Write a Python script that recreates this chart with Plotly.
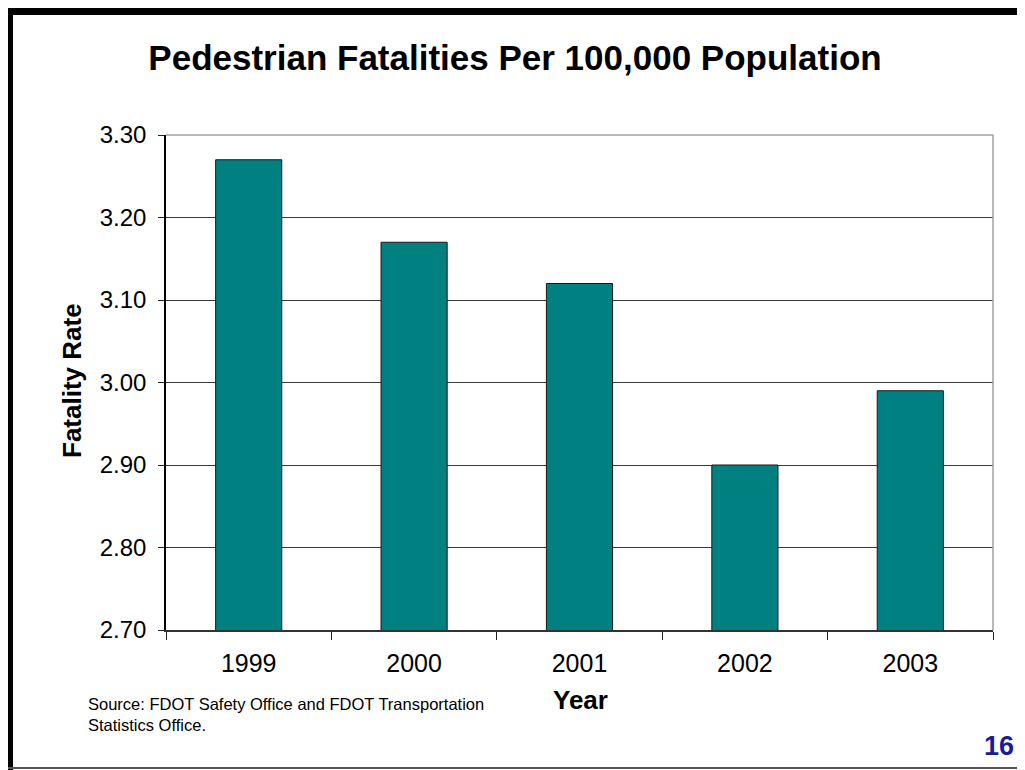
import plotly.graph_objects as go

years = ["1999", "2000", "2001", "2002", "2003"]
rates = [3.27, 3.17, 3.12, 2.90, 2.99]
y_ticks = [2.70, 2.80, 2.90, 3.00, 3.10, 3.20, 3.30]

# the page puts the figure 8px in from the top-left corner
OFF = 8
W, H = 1025 - OFF, 770 - OFF
FONT = "Liberation Sans, Arial, sans-serif"


def px(x):
    return (x - OFF) / W


def py(y):
    return 1 - (y - OFF) / H


# plot area in window pixels
x0, x1 = 166, 993
y_top, y_bot = 135, 630

fig = go.Figure()
fig.add_trace(go.Bar(
    x=years, y=rates, width=0.4,
    marker=dict(color="#008080", line=dict(color="#1a1a1a", width=1)),
))

fig.update_layout(
    width=W, height=H,
    margin=dict(l=0, r=0, t=0, b=0),
    paper_bgcolor="white", plot_bgcolor="white",
    showlegend=False,
    font=dict(family=FONT, color="black"),
    title=dict(text="<b>Pedestrian Fatalities Per 100,000 Population</b>",
               x=px(515), xanchor="center", y=py(58), yanchor="middle",
               font=dict(size=35, family=FONT, color="black")),
    xaxis=dict(
        domain=[px(x0), px(x1)], automargin=False,
        type="category", tickson="boundaries",
        ticks="outside", ticklen=8, tickcolor="#222", tickwidth=1,
        ticklabelstandoff=10,
        showline=True, linecolor="#333", linewidth=2,
        showgrid=False, tickfont=dict(size=25, family=FONT),
    ),
    yaxis=dict(
        domain=[py(y_bot), py(y_top)], automargin=False,
        range=[2.70, 3.30], tickvals=y_ticks,
        ticktext=[f"{v:.2f}" for v in y_ticks],
        ticks="outside", ticklen=6, tickcolor="#222",
        ticklabelstandoff=7,
        showline=True, linecolor="black", linewidth=1.5,
        showgrid=True, gridcolor="#3a3a3a", gridwidth=1,
        zeroline=False, tickfont=dict(size=24, family=FONT),
    ),
)

# plot-area border (top and right, light gray)
fig.add_shape(type="line", xref="paper", yref="paper",
              x0=px(x0), x1=px(x1), y0=py(y_top), y1=py(y_top),
              line=dict(color="#a0a0a0", width=1.5), layer="above")
fig.add_shape(type="line", xref="paper", yref="paper",
              x0=px(x1), x1=px(x1), y0=py(y_top), y1=py(y_bot),
              line=dict(color="#a0a0a0", width=1.5), layer="above")

# axis titles
fig.add_annotation(text="<b>Fatality Rate</b>", xref="paper", yref="paper",
                   x=px(72), y=py(381), xanchor="center", yanchor="middle",
                   textangle=-90, showarrow=False,
                   font=dict(size=26, family=FONT, color="black"))
fig.add_annotation(text="<b>Year</b>", xref="paper", yref="paper",
                   x=px(580), y=py(700), xanchor="center", yanchor="middle",
                   showarrow=False,
                   font=dict(size=26, family=FONT, color="black"))

# source note
fig.add_annotation(text="Source: FDOT Safety Office and FDOT Transportation<br>Statistics Office.",
                   xref="paper", yref="paper", x=px(86), y=py(693),
                   xanchor="left", yanchor="top", align="left", showarrow=False,
                   font=dict(size=16.5, family=FONT, color="black"))

# slide number
fig.add_annotation(text="<b>16</b>", xref="paper", yref="paper",
                   x=px(1016), y=py(746), xanchor="right", yanchor="middle",
                   showarrow=False, font=dict(size=27, family=FONT, color="#1a1a9a"))

# slide frame
frame = dict(type="rect", xref="paper", yref="paper", layer="above",
             fillcolor="black", line=dict(width=0))
fig.add_shape(**frame, x0=0, x1=px(13), y0=0, y1=py(4))
fig.add_shape(**frame, x0=0, x1=px(1022), y0=py(15), y1=py(4))
fig.add_shape(**frame, x0=px(1017), x1=px(1023), y0=0, y1=py(4))
fig.add_shape(type="line", xref="paper", yref="paper", layer="above",
              x0=0, x1=1, y0=py(768), y1=py(768),
              line=dict(color="#555", width=2))

fig.write_html("out.html")
